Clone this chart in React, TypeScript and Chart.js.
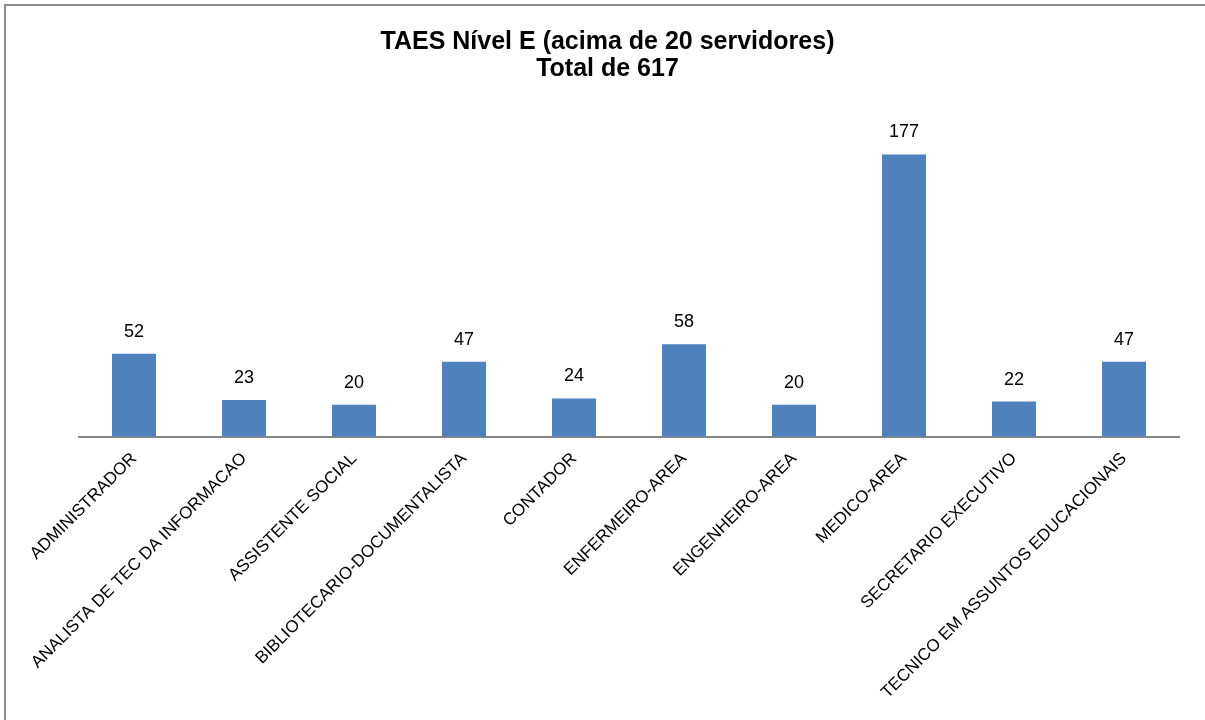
import React, { useEffect, useRef } from "react";
import { Chart, registerables } from "chart.js";

Chart.register(...registerables);

const categories = [
  "ADMINISTRADOR",
  "ANALISTA DE TEC DA INFORMACAO",
  "ASSISTENTE SOCIAL",
  "BIBLIOTECARIO-DOCUMENTALISTA",
  "CONTADOR",
  "ENFERMEIRO-AREA",
  "ENGENHEIRO-AREA",
  "MEDICO-AREA",
  "SECRETARIO EXECUTIVO",
  "TECNICO EM ASSUNTOS EDUCACIONAIS",
];
const values = [52, 23, 20, 47, 24, 58, 20, 177, 22, 47];
const titleLines = ["TAES Nível E (acima de 20 servidores)", "Total de 617"];

const W = 1205;
const H = 720;
const FONT = "'Liberation Sans', Arial, sans-serif";

const framePlugin = {
  id: "frame",
  beforeDraw(chart: any) {
    const ctx = chart.ctx;
    ctx.save();
    ctx.fillStyle = "#ffffff";
    ctx.fillRect(0, 0, W, H);
    ctx.strokeStyle = "#8c8c8c";
    ctx.lineWidth = 2;
    ctx.strokeRect(5, 5, W + 20, H + 20);
    ctx.restore();
  },
};

const titlePlugin = {
  id: "customTitle",
  afterDraw(chart: any) {
    const ctx = chart.ctx;
    ctx.save();
    ctx.fillStyle = "#000";
    ctx.font = `bold 25px ${FONT}`;
    ctx.textAlign = "center";
    ctx.textBaseline = "alphabetic";
    ctx.fillText(titleLines[0], 607.5, 48.5);
    ctx.fillText(titleLines[1], 607.5, 75.5);
    ctx.restore();
  },
};

const valueLabelPlugin = {
  id: "valueLabels",
  afterDatasetsDraw(chart: any) {
    const ctx = chart.ctx;
    const meta = chart.getDatasetMeta(0);
    ctx.save();
    ctx.fillStyle = "#000";
    ctx.font = `18px ${FONT}`;
    ctx.textAlign = "center";
    ctx.textBaseline = "middle";
    meta.data.forEach((bar: any, i: number) => {
      ctx.fillText(String(values[i]), bar.x, bar.y - 22);
    });
    ctx.restore();
  },
};

export default function App() {
  const ref = useRef<HTMLCanvasElement>(null);
  useEffect(() => {
    if (!ref.current) return;
    const chart = new Chart(ref.current, {
      type: "bar",
      data: {
        labels: categories,
        datasets: [
          {
            data: values,
            backgroundColor: "#4f81bd",
            borderWidth: 0,
            barPercentage: 0.4,
            categoryPercentage: 1,
          },
        ],
      },
      options: {
        responsive: false,
        animation: false,
        layout: { padding: { left: 79, right: 26, top: 117.7, bottom: 0 } },
        plugins: {
          legend: { display: false },
          title: { display: false },
          tooltip: { enabled: false },
        },
        scales: {
          x: {
            grid: { display: false, drawTicks: false },
            border: { display: true, color: "#868686", width: 2 },
            ticks: {
              autoSkip: false,
              maxRotation: 45,
              minRotation: 45,
              color: "#000",
              padding: 12,
              font: { family: FONT, size: 17 },
            },
            afterFit(scale: any) {
              scale.height = H - 436.7;
            },
          },
          y: { display: false, min: 0, max: 200 },
        },
      },
      plugins: [framePlugin, titlePlugin, valueLabelPlugin],
    });
    return () => chart.destroy();
  }, []);
  return (
    <div style={{ position: "fixed", left: 0, top: 0, width: W, height: H, background: "#fff" }}>
      <canvas ref={ref} width={W} height={H} style={{ display: "block" }} />
    </div>
  );
}
